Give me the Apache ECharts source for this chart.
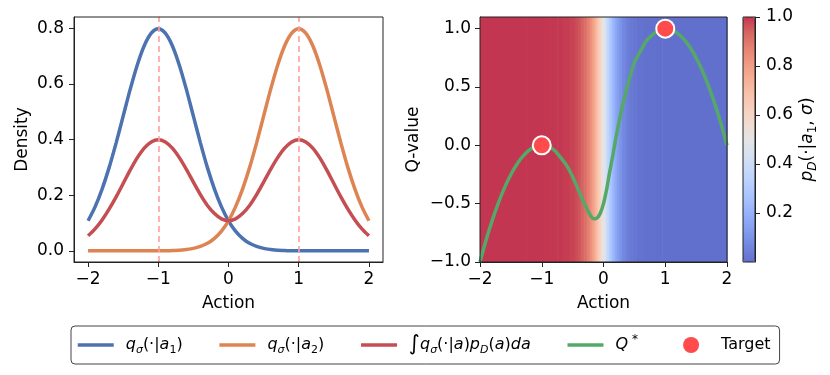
<!DOCTYPE html>
<html>
<head>
<meta charset="utf-8">
<script src="https://cdn.jsdelivr.net/npm/echarts@6/dist/echarts.min.js"></script>
<style>
  html, body { margin: 0; padding: 0; background: #fff; }
  #chart { width: 830px; height: 375px; }
</style>
</head>
<body>
<div id="chart"></div>
<script>
// left panel: densities sampled along the action axis
var densityActions = [-2, -1.9, -1.8, -1.7, -1.6, -1.5, -1.4, -1.3, -1.2, -1.1, -1, -0.9, -0.8, -0.7, -0.6, -0.5, -0.4, -0.3, -0.2, -0.1, 0,
  0.1, 0.2, 0.3, 0.4, 0.5, 0.6, 0.7, 0.8, 0.9, 1, 1.1, 1.2, 1.3, 1.4, 1.5, 1.6, 1.7, 1.8, 1.9, 2];
var qA1 = [0.108, 0.158, 0.222, 0.299, 0.388, 0.484, 0.580, 0.667, 0.737, 0.782, 0.798, 0.782, 0.737, 0.667, 0.580, 0.484, 0.388, 0.299, 0.222, 0.158, 0.108,
  0.071, 0.045, 0.027, 0.016, 0.009, 0.005, 0.002, 0.001, 0, 0, 0, 0, 0, 0, 0, 0, 0, 0, 0, 0];
var qA2 = [0, 0, 0, 0, 0, 0, 0, 0, 0, 0, 0, 0, 0.001, 0.002, 0.005, 0.009, 0.016, 0.027, 0.045, 0.071, 0.108,
  0.158, 0.222, 0.299, 0.388, 0.484, 0.580, 0.667, 0.737, 0.782, 0.798, 0.782, 0.737, 0.667, 0.580, 0.484, 0.388, 0.299, 0.222, 0.158, 0.108];
var qMix = [0.054, 0.079, 0.111, 0.150, 0.194, 0.242, 0.290, 0.334, 0.369, 0.391, 0.399, 0.391, 0.369, 0.335, 0.293, 0.247, 0.202, 0.163, 0.134, 0.115, 0.108,
  0.115, 0.134, 0.163, 0.202, 0.247, 0.293, 0.335, 0.369, 0.391, 0.399, 0.391, 0.369, 0.334, 0.290, 0.242, 0.194, 0.150, 0.111, 0.079, 0.054];
var peakActions = [-1, 1];

// right panel: Q* curve
var qStarActions = [-2, -1.9, -1.8, -1.7, -1.6, -1.5, -1.4, -1.3, -1.2, -1.1, -1, -0.9, -0.8, -0.7, -0.6, -0.5, -0.4, -0.3, -0.2, -0.15, -0.1, -0.05,
  0, 0.05, 0.1, 0.15, 0.2, 0.3, 0.4, 0.5, 0.6, 0.7, 0.8, 0.9, 1, 1.1, 1.2, 1.3, 1.4, 1.5, 1.6, 1.7, 1.8, 1.9, 2];
var qStarValues = [-1, -0.81, -0.64, -0.49, -0.36, -0.25, -0.16, -0.09, -0.04, -0.01, 0, -0.01, -0.04, -0.10, -0.17, -0.27, -0.39, -0.51, -0.61, -0.63, -0.62, -0.58,
  -0.50, -0.38, -0.23, -0.09, 0.06, 0.32, 0.53, 0.71, 0.81, 0.90, 0.95, 0.99, 1, 0.99, 0.96, 0.91, 0.84, 0.75, 0.64, 0.51, 0.36, 0.19, 0];
var targetActions = [-1, 1];
var targetQ = [0, 1];

// background: p_D(a1 | a) sampled along the action axis
var heatActions = [-2, -1.5, -1, -0.9, -0.8, -0.7, -0.6, -0.5, -0.475, -0.45, -0.425, -0.4, -0.375, -0.35, -0.325, -0.3, -0.275, -0.25, -0.225, -0.2,
  -0.175, -0.15, -0.125, -0.1, -0.075, -0.05, -0.025, 0, 0.025, 0.05, 0.075, 0.1, 0.125, 0.15, 0.175, 0.2, 0.225, 0.25, 0.275, 0.3,
  0.325, 0.35, 0.375, 0.4, 0.425, 0.45, 0.475, 0.5, 0.6, 0.7, 0.8, 0.9, 1, 1.5, 2];
var heatProb = [1, 1, 0.9997, 0.9993, 0.9983, 0.9963, 0.9918, 0.982, 0.9781, 0.9734, 0.9677, 0.9608, 0.9526, 0.9427, 0.9309, 0.9168, 0.9002, 0.8808, 0.8581, 0.832,
  0.8022, 0.7685, 0.7311, 0.69, 0.6457, 0.5987, 0.5498, 0.5, 0.4502, 0.4013, 0.3543, 0.31, 0.2689, 0.2315, 0.1978, 0.168, 0.1419, 0.1192, 0.0998, 0.0832,
  0.0691, 0.0573, 0.0474, 0.0392, 0.0323, 0.0266, 0.0219, 0.018, 0.0082, 0.0037, 0.0017, 0.0007, 0.0003, 0, 0];

var xTicks = [-2, -1, 0, 1, 2];
var densityTicks = [0, 0.2, 0.4, 0.6, 0.8];
var qTicks = [-1, -0.5, 0, 0.5, 1];
var cbarTicks = [0.2, 0.4, 0.6, 0.8, 1];

// coolwarm, blended with white at alpha 0.8
var coolwarm = ['#6270cd', '#7186df', '#819bee', '#92aef9', '#a4c0fe', '#b5ceff', '#c6d9fa', '#d6e1f1', '#e4e4e4',
  '#f0dcd1', '#f7d0bd', '#f9c1a9', '#f6ae95', '#f09982', '#e58071', '#d56560', '#c33651'];

var FONT = 'DejaVu Sans';
var fmtNum = function (v, d) { return v.toFixed(d).replace('-', '\u2212'); };

var pairs = function (xs, ys) { return xs.map(function (x, i) { return [x, ys[i]]; }); };

var heatCells = heatActions.map(function (a, i) {
  var lo = i === 0 ? a : (heatActions[i - 1] + a) / 2;
  var hi = i === heatActions.length - 1 ? a : (a + heatActions[i + 1]) / 2;
  return [lo, hi, heatProb[i]];
});

var tickStyle = { fontFamily: FONT, fontSize: 17, color: '#000' };
var nameStyle = { fontFamily: FONT, fontSize: 17, color: '#000' };

var valueAxis = function (o) {
  return Object.assign({
    type: 'value',
    splitLine: { show: false },
    axisLine: { show: true, onZero: false, lineStyle: { color: '#222', width: 1 } },
    axisTick: { show: true, length: 5, lineStyle: { color: '#222' }, customValues: o.ticks },
    axisLabel: Object.assign({ show: true, margin: o.margin, customValues: o.ticks, formatter: function (v) { return fmtNum(v, o.dec); } }, tickStyle),
    nameLocation: 'middle',
    nameTextStyle: nameStyle
  }, o.extra);
};

var rich = {
  n: { fontFamily: FONT, fontSize: 16, color: '#000', lineHeight: 22, verticalAlign: 'middle' },
  i: { fontFamily: FONT, fontSize: 16, fontStyle: 'italic', color: '#000', lineHeight: 22, verticalAlign: 'middle' },
  si: { fontFamily: FONT, fontSize: 11, fontStyle: 'italic', color: '#000', lineHeight: 9, verticalAlign: 'bottom' },
  sn: { fontFamily: FONT, fontSize: 11, color: '#000', lineHeight: 9, verticalAlign: 'bottom' },
  sup: { fontFamily: FONT, fontSize: 12, color: '#000', lineHeight: 10, verticalAlign: 'top' },
  big: { fontFamily: FONT, fontSize: 21, color: '#000', lineHeight: 22, verticalAlign: 'middle' },
  sp: { width: 7 }
};

var legendText = {
  q1: '{sp| }{i|q}{si|σ}{n|(·|}{i|a}{sn|1}{n|)}',
  q2: '{sp| }{i|q}{si|σ}{n|(·|}{i|a}{sn|2}{n|)}',
  mix: '{sp| }{big|∫}{i|q}{si|σ}{n|(·|}{i|a}{n|)}{i|p}{si|D}{n|(}{i|a}{n|)}{i|da}',
  qstar: '{sp| }{i|Q}{sup| *}{n|\u00a0\u00a0}',
  Target: '{sp| }{n|Target}'
};

var chart = echarts.init(document.getElementById('chart'));

chart.setOption({
  animation: false,
  backgroundColor: '#fff',
  grid: [
    { left: 74, top: 17, width: 309, height: 245, show: true, z: 10, borderColor: '#222', borderWidth: 1, backgroundColor: 'transparent' },
    { left: 480, top: 17, width: 247, height: 245, show: true, z: 10, borderColor: '#222', borderWidth: 1, backgroundColor: 'transparent' },
    { left: 743, top: 17, width: 12, height: 245, show: true, z: 10, borderColor: '#222', borderWidth: 1, backgroundColor: 'transparent' }
  ],
  xAxis: [
    valueAxis({ ticks: xTicks, dec: 0, margin: 9, extra: { gridIndex: 0, min: -2.2, max: 2.2, name: 'Action', nameGap: 33 } }),
    valueAxis({ ticks: xTicks, dec: 0, margin: 9, extra: { gridIndex: 1, min: -2, max: 2, name: 'Action', nameGap: 33 } }),
    { type: 'value', gridIndex: 2, min: 0, max: 1, show: false }
  ],
  yAxis: [
    valueAxis({ ticks: densityTicks, dec: 1, margin: 10, extra: { gridIndex: 0, min: -0.04, max: 0.84, name: 'Density', nameGap: 43 } }),
    valueAxis({ ticks: qTicks, dec: 1, margin: 9, extra: { gridIndex: 1, min: -1, max: 1.1, name: 'Q-value', nameGap: 58 } }),
    valueAxis({ ticks: cbarTicks, dec: 1, margin: 11, extra: {
      gridIndex: 2, min: 0, max: 1, position: 'right', name: '{i|p}{si|D}{n|(·|}{i|a}{sn|1}{n|, }{i|σ}{n|)}', nameGap: 42, nameRotate: 90,
      nameTextStyle: { rich: {
        n: { fontFamily: FONT, fontSize: 17, color: '#000', lineHeight: 22, verticalAlign: 'middle' },
        i: { fontFamily: FONT, fontSize: 17, fontStyle: 'italic', color: '#000', lineHeight: 22, verticalAlign: 'middle' },
        si: { fontFamily: FONT, fontSize: 12, fontStyle: 'italic', color: '#000', lineHeight: 9, verticalAlign: 'bottom' },
        sn: { fontFamily: FONT, fontSize: 12, color: '#000', lineHeight: 9, verticalAlign: 'bottom' }
      } }
    } })
  ],
  visualMap: {
    type: 'continuous',
    seriesIndex: 3,
    dimension: 2,
    min: 0,
    max: 1,
    orient: 'vertical',
    left: 743,
    top: 17,
    padding: 0,
    itemWidth: 12,
    itemHeight: 245,
    calculable: false,
    hoverLink: false,
    text: null,
    showLabel: false,
    inRange: { color: coolwarm }
  },
  legend: {
    data: ['q1', 'q2', 'mix', 'qstar', { name: 'Target', itemStyle: { opacity: 1, borderWidth: 0 } }],
    left: 71,
    top: 326,
    padding: [8, 9, 8, 5],
    itemWidth: 36,
    itemHeight: 16,
    itemGap: 35,
    borderColor: '#444',
    borderWidth: 1,
    borderRadius: 4,
    itemStyle: { opacity: 0 },
    lineStyle: { width: 3.5 },
    formatter: function (name) { return legendText[name]; },
    textStyle: { fontFamily: FONT, fontSize: 16, color: '#000', rich: rich }
  },
  series: [
    {
      name: 'q1', type: 'line', xAxisIndex: 0, yAxisIndex: 0, data: pairs(densityActions, qA1),
      smooth: 0.3, symbol: 'none', lineStyle: { color: '#4c72b0', width: 3.5 }, itemStyle: { color: '#4c72b0' }, z: 3,
      markLine: {
        silent: true, symbol: ['none', 'none'], label: { show: false },
        lineStyle: { color: '#ff9f9f', type: [6, 4], width: 1.6 },
        data: peakActions.map(function (a) { return { xAxis: a }; })
      }
    },
    {
      name: 'q2', type: 'line', xAxisIndex: 0, yAxisIndex: 0, data: pairs(densityActions, qA2),
      smooth: 0.3, symbol: 'none', lineStyle: { color: '#dd8452', width: 3.5 }, itemStyle: { color: '#dd8452' }, z: 3
    },
    {
      name: 'mix', type: 'line', xAxisIndex: 0, yAxisIndex: 0, data: pairs(densityActions, qMix),
      smooth: 0.3, symbol: 'none', lineStyle: { color: '#c44e52', width: 3.5 }, itemStyle: { color: '#c44e52' }, z: 3
    },
    {
      name: 'heat', type: 'custom', xAxisIndex: 1, yAxisIndex: 1, data: heatCells, z: 1, silent: true,
      dimensions: ['lo', 'hi', 'p'], encode: { x: ['lo', 'hi'], y: 'p' },
      renderItem: function (params, api) {
        var p0 = api.coord([api.value(0), 1.1]);
        var p1 = api.coord([api.value(1), -1]);
        return {
          type: 'rect',
          shape: { x: p0[0], y: p0[1], width: p1[0] - p0[0] + 0.6, height: p1[1] - p0[1] },
          style: { fill: api.visual('color') }
        };
      }
    },
    {
      name: 'qstar', type: 'line', xAxisIndex: 1, yAxisIndex: 1, data: pairs(qStarActions, qStarValues),
      smooth: 0.3, symbol: 'none', lineStyle: { color: '#55a868', width: 3.5 }, itemStyle: { color: '#55a868' }, z: 3
    },
    {
      name: 'Target', type: 'scatter', xAxisIndex: 1, yAxisIndex: 1, data: pairs(targetActions, targetQ),
      symbolSize: 18, itemStyle: { color: '#ff4b4b', borderColor: '#fff', borderWidth: 2, opacity: 1 }, z: 5
    }
  ]
});
</script>
</body>
</html>
